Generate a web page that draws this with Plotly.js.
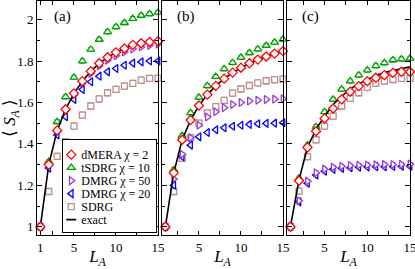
<!DOCTYPE html>
<html><head><meta charset="utf-8">
<script src="https://cdn.plot.ly/plotly-3.0.1.min.js"></script>
<style>html,body{margin:0;padding:0;background:#fff}#c{width:415px;height:269px}</style>
</head><body><div id="c"></div>
<script>
const LA = [1,2,3,4,5,6,7,8,9,10,11,12,13,14,15];

// panel (a)
const a_dmera = [1.0,1.30,1.465,1.567,1.644,1.703,1.751,1.789,1.818,1.842,1.861,1.878,1.886,1.892,1.896];
const a_tsdrg = [1.0,1.314,1.507,1.627,1.721,1.80,1.856,1.904,1.941,1.965,1.985,2.005,2.02,2.028,2.035];
const a_dmrg50 = [1.0,1.295,1.46,1.56,1.636,1.693,1.740,1.776,1.804,1.826,1.844,1.858,1.868,1.876,1.882];
const a_dmrg20 = [1.0,1.283,1.443,1.531,1.615,1.663,1.70,1.727,1.748,1.764,1.78,1.79,1.796,1.80,1.80];
const a_sdrg = [1.0,1.17,1.34,1.41,1.486,1.539,1.583,1.617,1.647,1.663,1.679,1.692,1.708,1.716,1.716];
const a_exact = [1.0,1.30,1.465,1.567,1.644,1.703,1.751,1.789,1.818,1.842,1.861,1.878,1.886,1.892,1.896];

// panel (b)
const b_dmera = [1.0,1.26,1.42,1.515,1.585,1.638,1.68,1.715,1.744,1.768,1.789,1.807,1.822,1.836,1.848];
const b_tsdrg = [1.0,1.275,1.44,1.55,1.625,1.68,1.725,1.762,1.792,1.818,1.84,1.858,1.875,1.89,1.905];
const b_dmrg50 = [1.0,1.23,1.35,1.43,1.49,1.53,1.555,1.575,1.59,1.60,1.607,1.611,1.614,1.616,1.618];
const b_dmrg20 = [1.0,1.20,1.338,1.394,1.434,1.455,1.468,1.478,1.485,1.49,1.494,1.497,1.499,1.50,1.502];
const b_sdrg = [1.0,1.17,1.33,1.43,1.50,1.55,1.58,1.61,1.645,1.665,1.682,1.695,1.705,1.71,1.713];
const b_exact = [1.0,1.26,1.42,1.515,1.585,1.638,1.68,1.715,1.744,1.768,1.789,1.807,1.822,1.836,1.848];

// panel (c)
const c_dmera = [1.0,1.222,1.383,1.461,1.523,1.571,1.615,1.652,1.679,1.703,1.719,1.732,1.743,1.748,1.748];
const c_tsdrg = [1.0,1.234,1.394,1.483,1.555,1.615,1.663,1.703,1.732,1.756,1.777,1.791,1.805,1.809,1.813];
const c_dmrg50 = [1.0,1.125,1.22,1.26,1.278,1.287,1.292,1.295,1.297,1.298,1.299,1.30,1.30,1.301,1.302];
const c_dmrg20 = [1.0,1.12,1.21,1.25,1.268,1.277,1.282,1.285,1.287,1.289,1.29,1.29,1.291,1.292,1.292];
const c_sdrg = [1.0,1.172,1.338,1.42,1.486,1.534,1.583,1.62,1.647,1.673,1.692,1.703,1.711,1.716,1.716];
const c_exact = [1.0,1.225,1.385,1.47,1.535,1.59,1.63,1.665,1.69,1.71,1.73,1.745,1.755,1.765,1.772];

const errT = 0.01, errS = 0.015;

const names = ['dMERA χ = 2','tSDRG χ = 10','DMRG χ = 50','DMRG χ = 20','SDRG','exact'];
const COL = {dmera:'#ff0000', tsdrg:'#00a000', d50:'#9a3cd0', d20:'#0000ff', sdrg:'#bc8f8f', exact:'#000000'};

function mk(y, name, sym, col, size, xa, ya, show, rank, err){
  const t = {x: LA, y: y, name: name, type:'scatter', mode:'markers', xaxis: xa, yaxis: ya,
    showlegend: show, legendrank: rank, cliponaxis: false,
    marker:{symbol: sym, size: size, color:'#ffffff', line:{color: col, width:1.3}}};
  if (err) t.error_y = {type:'constant', value: err, color: col, thickness:1, width:2.5};
  return t;
}
function line(y, xa, ya, show){
  return {x: LA, y: y, name: names[5], type:'scatter', mode:'lines', xaxis: xa, yaxis: ya,
    showlegend: show, legendrank: 6, line:{color:'#000', width:1.6}};
}
const panels = [
  [a_dmera,a_tsdrg,a_dmrg50,a_dmrg20,a_sdrg,a_exact,'x','y'],
  [b_dmera,b_tsdrg,b_dmrg50,b_dmrg20,b_sdrg,b_exact,'x2','y2'],
  [c_dmera,c_tsdrg,c_dmrg50,c_dmrg20,c_sdrg,c_exact,'x3','y3']
];
const data = [];
panels.forEach((p,i)=>{
  const s = i===0;
  data.push(mk(p[4], names[4], 'square', COL.sdrg, 6, p[6], p[7], s, 5, errS));
  data.push(mk(p[3], names[3], 'triangle-left', COL.d20, 7, p[6], p[7], s, 4));
  data.push(mk(p[2], names[2], 'triangle-right', COL.d50, 7, p[6], p[7], s, 3));
  data.push(mk(p[1], names[1], 'triangle-up', COL.tsdrg, 7, p[6], p[7], s, 2, errT));
  data.push(line(p[5], p[6], p[7], s));
  data.push(mk(p[0], names[0], 'diamond', COL.dmera, 7, p[6], p[7], s, 1));
});

const F = 'Liberation Serif, Times New Roman, serif';
const xr = [0.6, 15];
function xax(dom, anchor, first){
  return {domain: dom, anchor: anchor, range: xr, showline:true, linecolor:'#000', linewidth:1, mirror:'ticks',
    ticks:'inside', ticklen:4, tickcolor:'#000', showgrid:false, zeroline:false, ticklabeloverflow:'allow',
    tickmode:'array', tickvals: first?[1,2.5,5,7.5,10,12.5,15]:[2.5,5,7.5,10,12.5,15],
    ticktext: first?['1','','5','','10','','15']:['','5','','10','','15'],
    tickfont:{family:F, size:13, color:'#000'},
    title:{text:'<i>L</i><sub><i>A</i></sub>', font:{family:F, size:17, color:'#000'}, standoff:2}};
}
function yax(anchor, first){
  return {anchor: anchor, range:[0.96, 2.09], showline:true, linecolor:'#000', linewidth:1, mirror:'ticks',
    ticks:'inside', ticklen:5, tickcolor:'#000', showgrid:false, zeroline:false,
    tick0:1, dtick:0.2, showticklabels:first,
    minor:{dtick:0.1, ticks:'inside', ticklen:3, tickcolor:'#000', showgrid:false},
    tickfont:{family:F, size:13, color:'#000'},
    title: first?{text:'⟨ <i>S</i><sub><i>A</i></sub> ⟩', font:{family:F, size:17, color:'#000'}, standoff:4}:{text:''}};
}
const W = 373;
const dA=[0,(158-37)/W], dB=[(162-37)/W,(283-37)/W], dC=[(287-37)/W,1];
const layout = {
  width:415, height:269, margin:{l:37, r:5, t:1, b:34},
  paper_bgcolor:'#fff', plot_bgcolor:'#fff', font:{family:F, color:'#000'},
  xaxis: xax(dA,'y',true), xaxis2: xax(dB,'y2',false), xaxis3: xax(dC,'y3',false),
  yaxis: yax('x',true), yaxis2: Object.assign(yax('x2',false),{matches:'y'}), yaxis3: Object.assign(yax('x3',false),{matches:'y'}),
  showlegend:true,
  legend:{x:dA[1]-0.002, xanchor:'right', y:0.008, yanchor:'bottom', bgcolor:'#fff', bordercolor:'#000', borderwidth:1,
    font:{family:F, size:12, color:'#000'}, itemwidth:30, tracegroupgap:0},
  annotations:[
    {text:'(a)', xref:'paper', yref:'paper', x:(52-37)/W, y:(269-34-17)/234, xanchor:'left', yanchor:'middle', showarrow:false, font:{family:F, size:15}},
    {text:'(b)', xref:'paper', yref:'paper', x:(175-37)/W, y:(269-34-17)/234, xanchor:'left', yanchor:'middle', showarrow:false, font:{family:F, size:15}},
    {text:'(c)', xref:'paper', yref:'paper', x:(300-37)/W, y:(269-34-17)/234, xanchor:'left', yanchor:'middle', showarrow:false, font:{family:F, size:15}}
  ]
};

// compact the legend rows (row pitch and symbol/text offsets) after drawing
function compactLegend(gd){
  const leg = gd.querySelector('.legend');
  if (!leg) return;
  const items = Array.from(leg.querySelectorAll('.traces'));
  const bg = leg.querySelector('rect.bg');
  if (!items.length || !bg) return;
  const getT = el => { const m = /translate\(\s*([-\d.e]+)[ ,]+([-\d.e]+)/.exec(el.getAttribute('transform')||''); return m?[+m[1],+m[2]]:[0,0]; };
  const rowH = 13;
  const y0 = getT(items[0])[1], yL = getT(items[items.length-1])[1];
  items.forEach((it,i)=>{
    const t = getT(it);
    it.setAttribute('transform', `translate(${t[0]},${y0 + i*rowH})`);
    const layers = it.querySelector('.layers');
    if (layers) layers.setAttribute('transform','translate(-12,0)');
    const txt = it.querySelector('text.legendtext');
    if (txt) txt.setAttribute('x', 18);
    it.querySelectorAll('.legendlines path').forEach(p=>p.setAttribute('d','M15,0h10'));
  });
  const dy = (yL - y0) - (items.length-1)*rowH;
  const dx = 22;
  const H = +bg.getAttribute('height'), Wd = +bg.getAttribute('width');
  bg.setAttribute('height', H - dy - 2);
  bg.setAttribute('width', Wd - dx);
  const lt = getT(leg);
  leg.setAttribute('transform', `translate(${lt[0]+dx},${lt[1]+dy+2})`);
}
Plotly.newPlot('c', data, layout, {displayModeBar:false, staticPlot:true}).then(compactLegend);
</script></body></html>
